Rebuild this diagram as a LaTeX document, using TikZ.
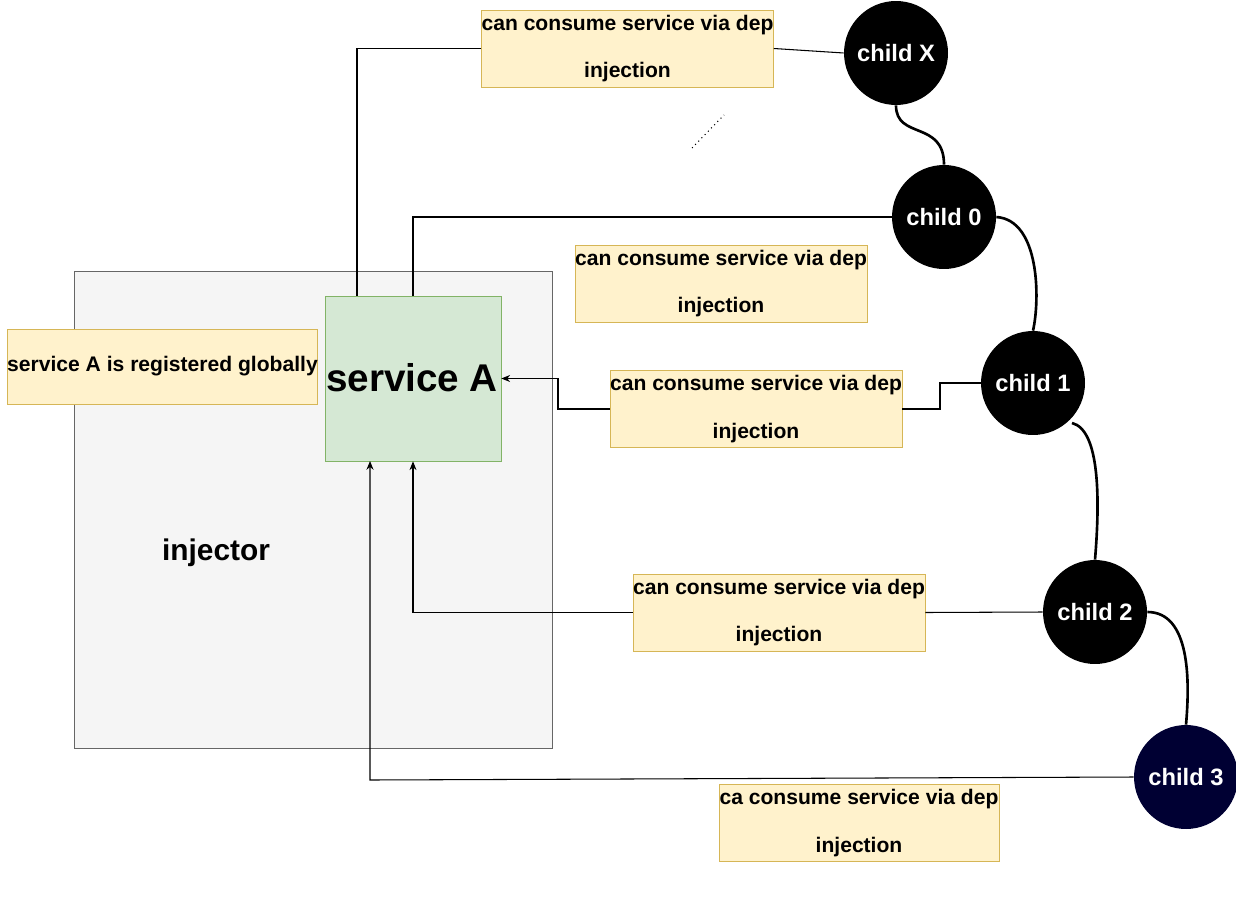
\documentclass[tikz,border=0pt]{standalone}
\usepackage{fontspec}
\setmainfont{Liberation Sans}
\usetikzlibrary{arrows.meta}
\begin{document}
\begin{tikzpicture}[x=0.02cm,y=-0.02cm,
 note/.style={draw=yellow!60!orange!70!black!60, fill=ylw, minimum width=5.6cm, minimum height=1.54cm, font=\bfseries\fontsize{12}{27}\selectfont, align=center, inner sep=0pt},
 child/.style={circle, fill=black, minimum size=2.08cm, inner sep=0pt, text=white, font=\bfseries\fontsize{13.5}{15}\selectfont},
 conn/.style={draw=black, line width=0.6pt},
 arr/.style={conn, -{Stealth[length=5pt,width=4pt]}},
 curv/.style={draw=black, line width=1.5pt}]
\definecolor{ylw}{HTML}{FFF2CC}
\definecolor{ylwb}{HTML}{D6B656}
\definecolor{grn}{HTML}{D5E8D4}
\definecolor{grnb}{HTML}{82B366}
\definecolor{navy}{HTML}{000033}
\tikzset{note/.append style={draw=ylwb}}
\useasboundingbox (0,0) rectangle (1236,922);
\node[draw=black!60, fill=black!4, minimum width=9.56cm, minimum height=9.54cm, inner sep=0pt] (inj) at (313,509.5) {};
\node[font=\bfseries\fontsize{17}{20}\selectfont] (injl) at (216,553) {injector};
\node[draw=grnb, fill=grn, minimum width=3.52cm, minimum height=3.3cm, inner sep=0pt] (sa) at (413,378.5) {};
\node[font=\bfseries\fontsize{22}{24}\selectfont] (sal) at (412,378) {service A};
\node[note, minimum width=6.1cm, minimum height=1.5cm] (glob) at (162.5,366.5) {service A is registered globally};
\node[note] (n1) at (627.5,48.5) {can consume service via dep\\injection};
\node[note] (n2) at (721,283.5) {can consume service via dep\\injection};
\node[note] (n3) at (756,409) {can consume service via dep\\injection};
\node[note] (n4) at (779,612.5) {can consume service via dep\\injection};
\node[note] (n5) at (859,823) {ca consume service via dep\\injection};
\node[child] (cx) at (896,53) {child X};
\node[child] (c0) at (944,217) {child 0};
\node[child] (c1) at (1033,383) {child 1};
\node[child] (c2) at (1095,612) {child 2};
\node[child, fill=navy] (c3) at (1186,777) {child 3};
% connectors
\draw[conn] (cx.west) -- (n1.east);
\draw[conn] (n1.west) -| (357,296);
\draw[conn] (c0.west) -| (sa.north);
\draw[conn] (c1.west) -- (940,383) |- (n3.east);
\draw[arr] (n3.west) -- (558,409) |- (sa.east);
\draw[conn] (c2.west) -- (n4.east);
\draw[arr] (n4.west) -| (sa.south);
\draw[arr] (c3.west) -- (370,780) -- (370,461);
% curvy links
\draw[curv] (cx.south) .. controls (896,140) and (944,120) .. (c0.north);
\draw[curv] (c0.east) .. controls (1040,220) and (1040,300) .. (c1.north);
\draw[curv] (1072,423) .. controls (1100,430) and (1100,500) .. (c2.north);
\draw[curv] (c2.east) .. controls (1190,612) and (1190,680) .. (c3.north);
\draw[dotted, line width=0.6pt] (692,148) -- (724,115);
\end{tikzpicture}
\end{document}
